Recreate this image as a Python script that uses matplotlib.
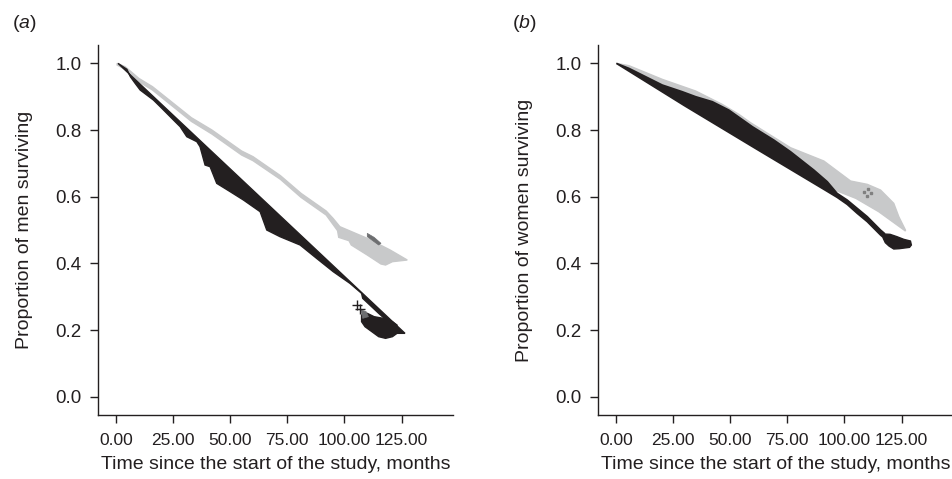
# %%
import matplotlib
matplotlib.use("Agg")
import matplotlib.pyplot as plt
from matplotlib.ticker import FormatStrFormatter

plt.rcParams['font.family'] = ['Liberation Sans', 'DejaVu Sans']
plt.rcParams['mathtext.fontset'] = 'custom'
plt.rcParams['mathtext.rm'] = 'Liberation Sans'
plt.rcParams['mathtext.it'] = 'Liberation Sans:italic'

BLACK = '#231f20'
GREY = '#c8c9ca'
DARK = '#6d6e70'

# %%
# (a) men - grey group, upper and lower edge of the band
men_grey_upper_t = [0.5, 4, 10, 16, 33, 42, 55, 60, 72, 81, 92, 95, 98, 110, 120, 127.5]
men_grey_upper_s = [1.0, 0.99, 0.955, 0.93, 0.837, 0.80, 0.737, 0.72, 0.663, 0.61, 0.557, 0.535, 0.51, 0.475, 0.44, 0.41]
men_grey_lower_t = [127.5, 121, 118, 116, 110, 103, 102, 97.5, 97, 92, 81, 72, 60, 55, 42, 33, 16, 10, 4, 0.5]
men_grey_lower_s = [0.41, 0.405, 0.395, 0.398, 0.425, 0.455, 0.468, 0.478, 0.498, 0.545, 0.598, 0.652, 0.708, 0.725, 0.788, 0.826, 0.92, 0.945, 0.982, 0.995]
men_grey_streak_t = [110, 113, 116, 115, 112, 110]
men_grey_streak_s = [0.49, 0.478, 0.46, 0.455, 0.47, 0.48]

# (a) men - black group: step curve, thin tail, straight censor edge, end blob
men_black_step_t = [0.9, 4.8, 6.3, 8.4, 10.6, 16.4, 20.1, 25.9, 28.1, 31, 35.4, 36.8, 37.6, 39, 41.2, 44.1, 50,
                    55.8, 63.1, 66, 71.8, 80.6, 87.8, 95.1, 102.4, 107.5]
men_black_step_s = [1.0, 0.982, 0.96, 0.94, 0.92, 0.89, 0.865, 0.825, 0.81, 0.78, 0.765, 0.75, 0.73, 0.695, 0.69,
                    0.64, 0.615, 0.59, 0.555, 0.50, 0.48, 0.455, 0.415, 0.375, 0.34, 0.31]
men_black_tail_t = [108, 115, 121, 122, 126.5]
men_black_tail_s = [0.295, 0.25, 0.213, 0.19, 0.19]
men_black_edge_t = [126.5, 0.9]
men_black_edge_s = [0.19, 1.0]
men_black_blob_t = [107.5, 110, 113, 117, 121, 123, 123, 121, 118, 115, 112, 109, 107.5]
men_black_blob_s = [0.245, 0.25, 0.24, 0.235, 0.225, 0.215, 0.19, 0.18, 0.175, 0.18, 0.195, 0.21, 0.225]
men_black_patch_t = [107.3, 109.5, 110.5, 108]
men_black_patch_s = [0.26, 0.255, 0.24, 0.235]
men_censor_t = [105.6, 106.8]
men_censor_s = [0.275, 0.262]

# (b) women - grey group
women_grey_upper_t = [0.2, 5.7, 20.3, 34.9, 46.5, 53.8, 58.9, 76.4, 91, 102.7, 110, 115.8, 121.6, 123.8, 126.7]
women_grey_upper_s = [1.0, 0.993, 0.952, 0.917, 0.877, 0.847, 0.822, 0.747, 0.707, 0.647, 0.637, 0.62, 0.58, 0.54, 0.50]
women_grey_lower_t = [126.7, 115, 105, 96.5, 92, 60, 0.2]
women_grey_lower_s = [0.497, 0.555, 0.595, 0.618, 0.64, 0.79, 1.0]
women_grey_specks_t = [108.5, 110.5, 111.5, 110]
women_grey_specks_s = [0.615, 0.622, 0.612, 0.603]

# (b) women - black group
women_black_upper_t = [0.2, 5.7, 20.3, 29, 34.9, 42.2, 49.4, 59.7, 69.1, 76.4, 86.6, 92.5, 96.8, 101.2, 105.6,
                       110, 115.8, 117.5]
women_black_upper_s = [1.0, 0.985, 0.935, 0.915, 0.90, 0.885, 0.86, 0.81, 0.77, 0.735, 0.68, 0.645, 0.61, 0.59,
                       0.565, 0.54, 0.50, 0.49]
women_black_lower_t = [117.5, 115.8, 110, 105.6, 101.2, 96.8, 91, 61, 30, 0.2]
women_black_lower_s = [0.475, 0.485, 0.525, 0.55, 0.577, 0.598, 0.622, 0.745, 0.873, 1.0]
women_black_blob_t = [117.3, 120, 123, 126, 128.9, 129.3, 128.5, 124, 121.6, 119.5, 117.9, 117]
women_black_blob_s = [0.488, 0.487, 0.48, 0.472, 0.467, 0.455, 0.448, 0.444, 0.443, 0.452, 0.462, 0.475]

x_ticks = [0, 25, 50, 75, 100, 125]
y_ticks = [0.0, 0.2, 0.4, 0.6, 0.8, 1.0]


# %%
def style_axes(ax, ylabel):
    ax.set_xlim(-8, 147.5)
    ax.set_ylim(-0.055, 1.055)
    for side in ['top', 'right']:
        ax.spines[side].set_visible(False)
    for side in ['left', 'bottom']:
        ax.spines[side].set_linewidth(1.0)
        ax.spines[side].set_color(BLACK)
    ax.set_xticks(x_ticks)
    ax.set_yticks(y_ticks)
    ax.xaxis.set_major_formatter(FormatStrFormatter('%.2f'))
    ax.yaxis.set_major_formatter(FormatStrFormatter('%.1f'))
    ax.tick_params(direction='out', length=5.8, width=1.0, color=BLACK, labelcolor=BLACK)
    ax.tick_params(axis='x', labelsize=12.5, pad=7)
    ax.tick_params(axis='y', labelsize=13.5, pad=6)
    ax.set_xlabel('Time since the start of the study, months', fontsize=14, color=BLACK)
    ax.set_ylabel(ylabel, fontsize=14, color=BLACK)
    ax.xaxis.set_label_coords(0.5, -0.112)
    ax.yaxis.set_label_coords(-0.182, 0.5)


fig = plt.figure(figsize=(9.52, 4.79), dpi=100)
ax_a = fig.add_axes([0.1026, 0.1336, 0.3732, 0.7724])
ax_b = fig.add_axes([0.6278, 0.1336, 0.3732, 0.7724])

# panel a
ax_a.fill(men_grey_upper_t + men_grey_lower_t, men_grey_upper_s + men_grey_lower_s,
          facecolor=GREY, edgecolor=GREY, lw=1.0)
ax_a.fill(men_grey_streak_t, men_grey_streak_s, facecolor=DARK, edgecolor=DARK, lw=0.5)
ax_a.fill(men_black_step_t + men_black_tail_t + men_black_edge_t,
          men_black_step_s + men_black_tail_s + men_black_edge_s,
          facecolor=BLACK, edgecolor=BLACK, lw=1.0)
ax_a.fill(men_black_blob_t, men_black_blob_s, facecolor=BLACK, edgecolor=BLACK, lw=1.0)
ax_a.fill(men_black_patch_t, men_black_patch_s, facecolor=DARK, edgecolor=DARK, lw=0.5)
ax_a.plot(men_censor_t, men_censor_s, ls='none', marker='+', ms=7, mew=1.0, color=BLACK)
style_axes(ax_a, 'Proportion of men surviving')

# panel b
ax_b.fill(women_grey_upper_t + women_grey_lower_t, women_grey_upper_s + women_grey_lower_s,
          facecolor=GREY, edgecolor=GREY, lw=1.0)
ax_b.plot(women_grey_specks_t, women_grey_specks_s, ls='none', marker='s', ms=1.5, color='#808080')
ax_b.fill(women_black_upper_t + women_black_lower_t, women_black_upper_s + women_black_lower_s,
          facecolor=BLACK, edgecolor=BLACK, lw=1.2)
ax_b.fill(women_black_blob_t, women_black_blob_s, facecolor=BLACK, edgecolor=BLACK, lw=1.0)
style_axes(ax_b, 'Proportion of women surviving')

fig.text(12 / 952, 1 - 24 / 479, r'($\it{a}$)', fontsize=14, color=BLACK, ha='left', va='center')
fig.text(512 / 952, 1 - 24 / 479, r'($\it{b}$)', fontsize=14, color=BLACK, ha='left', va='center')

plt.savefig('out.png', dpi=100)
